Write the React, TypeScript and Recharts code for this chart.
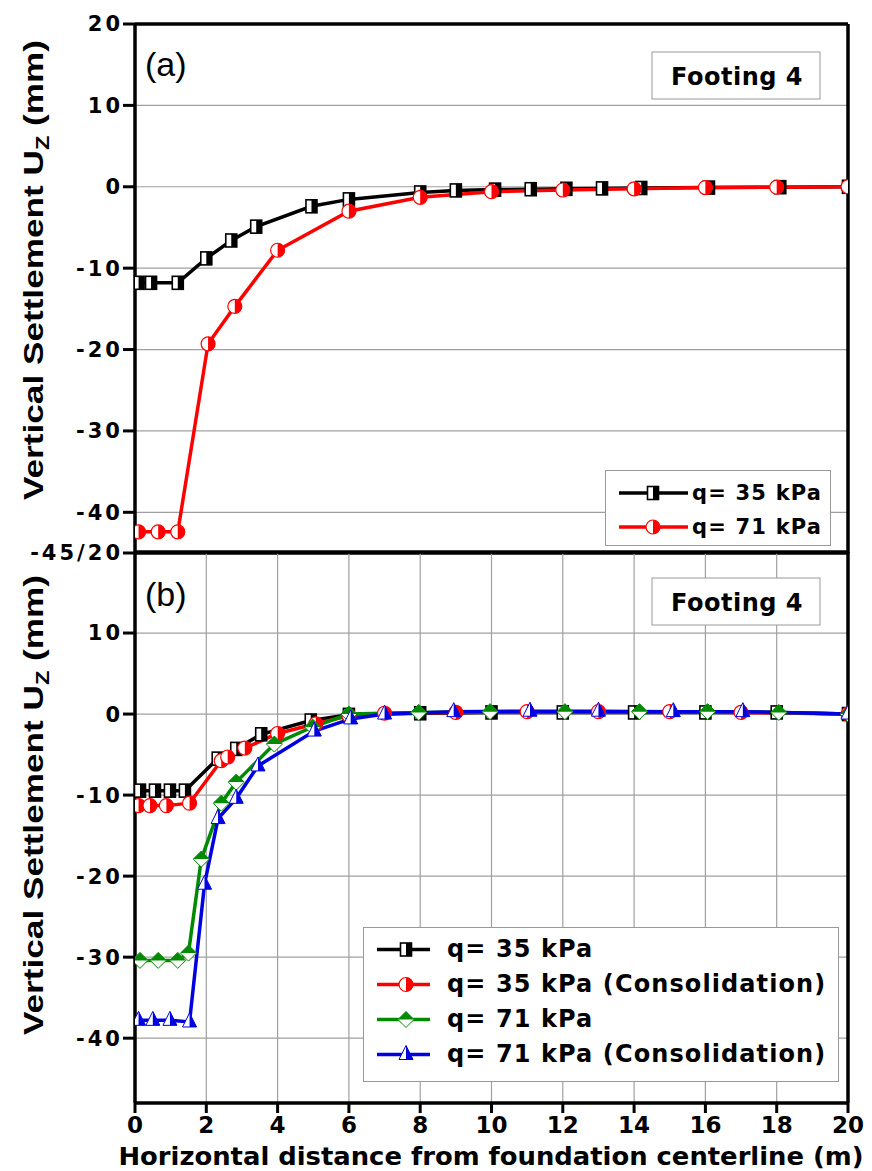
import React from "react";
import { CartesianGrid, Legend, Line, LineChart, XAxis, YAxis } from "recharts";

// (a) Footing 4, two load levels
const topBlackX = [0.1, 0.45, 1.2, 2.0, 2.7, 3.4, 4.95, 6.0, 8.0, 9.0, 10.1, 11.1, 12.1, 13.1, 14.2, 16.1, 18.1, 20];
const topBlackY = [-11.8, -11.8, -11.8, -8.8, -6.6, -4.9, -2.4, -1.55, -0.7, -0.45, -0.35, -0.3, -0.25, -0.2, -0.15, -0.1, -0.05, 0];
const topRedX = [0.1, 0.65, 1.2, 2.05, 2.8, 4.0, 6.0, 8.0, 10.0, 12.0, 14.0, 16.0, 18.0, 20];
const topRedY = [-42.4, -42.4, -42.4, -19.3, -14.7, -7.8, -3.0, -1.3, -0.6, -0.4, -0.25, -0.1, -0.05, 0];

// (b) Footing 4, with and without consolidation
const botBlackX = [0.14, 0.56, 0.98, 1.4, 2.32, 2.84, 3.54, 4.93, 6.0, 8.0, 10.0, 12.0, 14.0, 16.0, 18.0, 20];
const botBlackY = [-9.45, -9.45, -9.45, -9.45, -5.5, -4.3, -2.5, -0.8, -0.1, 0.1, 0.2, 0.2, 0.2, 0.2, 0.2, 0];
const botRedX = [0.1, 0.42, 0.88, 1.53, 2.42, 2.6, 3.08, 4.0, 5.07, 6.0, 7.0, 9.0, 11.0, 13.0, 15.0, 17.0, 20];
const botRedY = [-11.3, -11.3, -11.3, -11.0, -5.75, -5.3, -4.2, -2.4, -1.2, -0.2, 0.1, 0.2, 0.3, 0.3, 0.3, 0.2, 0];
const botGreenX = [0.14, 0.65, 1.2, 1.5, 1.86, 2.42, 2.84, 3.91, 4.98, 6.0, 7.96, 9.96, 12.06, 14.15, 16.06, 18.06, 20];
const botGreenY = [-30.4, -30.4, -30.4, -29.5, -17.9, -11.0, -8.4, -3.7, -1.6, 0, 0.2, 0.3, 0.3, 0.3, 0.3, 0.2, 0];
const botBlueX = [0.1, 0.5, 0.98, 1.53, 1.95, 2.33, 2.84, 3.45, 5.03, 6.05, 7.0, 8.94, 11.08, 13.0, 15.1, 17.05, 20];
const botBlueY = [-37.8, -37.8, -37.8, -38.0, -21.0, -12.9, -10.4, -6.4, -2.1, -0.6, 0, 0.3, 0.35, 0.35, 0.3, 0.3, 0];

const xTicks = [0, 2, 4, 6, 8, 10, 12, 14, 16, 18, 20];
const topYTicks = [20, 10, 0, -10, -20, -30, -40, -45];
const botYTicks = [10, 0, -10, -20, -30, -40];

const toPoints = (xs: number[], ys: number[]) => xs.map((x, i) => ({ x, y: ys[i] }));

type Shape = "square" | "circle" | "diamond" | "triangle";
type Series = { key: string; label: string; color: string; shape: Shape; data: { x: number; y: number }[] };

const topSeries: Series[] = [
  { key: "t35", label: "q= 35 kPa", color: "#000000", shape: "square", data: toPoints(topBlackX, topBlackY) },
  { key: "t71", label: "q= 71 kPa", color: "#ff0000", shape: "circle", data: toPoints(topRedX, topRedY) }
];

const botSeries: Series[] = [
  { key: "b35", label: "q= 35 kPa", color: "#000000", shape: "square", data: toPoints(botBlackX, botBlackY) },
  { key: "b35c", label: "q= 35 kPa (Consolidation)", color: "#ff0000", shape: "circle", data: toPoints(botRedX, botRedY) },
  { key: "b71", label: "q= 71 kPa", color: "#008a00", shape: "diamond", data: toPoints(botGreenX, botGreenY) },
  { key: "b71c", label: "q= 71 kPa (Consolidation)", color: "#0000e0", shape: "triangle", data: toPoints(botBlueX, botBlueY) }
];

const axisLine = { stroke: "#000", strokeWidth: 3.5 };
const tickLine = { stroke: "#000", strokeWidth: 3 };
const yTickFont = { fontFamily: "DejaVu Sans", fontWeight: 700, fontSize: 21, fill: "#000", letterSpacing: 3 };
const xTickFont = { fontFamily: "DejaVu Sans", fontWeight: 700, fontSize: 23, fill: "#000" };

function Marker({ cx, cy, shape, color }: { cx: number; cy: number; shape: Shape; color: string }) {
  if (shape === "square") {
    return (
      <g>
        <rect x={cx - 5.5} y={cy - 6.5} width={11} height={13} fill="#fff" stroke={color} strokeWidth={1.6} />
        <rect x={cx} y={cy - 6.5} width={5.5} height={13} fill={color} />
      </g>
    );
  }
  if (shape === "circle") {
    const r = 7;
    return (
      <g>
        <circle cx={cx} cy={cy} r={r} fill="#fff" stroke={color} strokeWidth={1.2} />
        <path d={`M${cx},${cy - r} A${r},${r} 0 0 1 ${cx},${cy + r} Z`} fill={color} />
      </g>
    );
  }
  if (shape === "diamond") {
    const d = 8;
    return (
      <g>
        <polygon points={`${cx},${cy - d} ${cx + d},${cy} ${cx},${cy + d} ${cx - d},${cy}`} fill="#fff" stroke={color} strokeWidth={1} />
        <polygon points={`${cx - d},${cy} ${cx},${cy - d} ${cx + d},${cy}`} fill={color} />
      </g>
    );
  }
  return (
    <g>
      <polygon points={`${cx},${cy - 9} ${cx + 7},${cy + 5} ${cx - 7},${cy + 5}`} fill="#fff" stroke={color} strokeWidth={1} />
      <polygon points={`${cx},${cy - 9} ${cx + 7},${cy + 5} ${cx},${cy + 5}`} fill={color} />
    </g>
  );
}

const renderDot = (s: Series) => (props: any) => {
  const { cx, cy, index } = props;
  if (cx == null || cy == null) return <g key={`${s.key}-${index}`} />;
  return <Marker key={`${s.key}-${index}`} cx={cx} cy={cy} shape={s.shape} color={s.color} />;
};

function LegendBox({
  series,
  width,
  height,
  rowHeight,
  padTop,
  sampleWidth,
  markerX,
  textLeft,
  font
}: {
  series: Series[];
  width: number;
  height: number;
  rowHeight: number;
  padTop: number;
  sampleWidth: number;
  markerX: number;
  textLeft: number;
  font: React.CSSProperties;
}) {
  return (
    <div style={{ width, height, background: "#fff", border: "1px solid #999", paddingTop: padTop, boxSizing: "border-box" }}>
      {series.map((s) => (
        <div key={s.key} style={{ position: "relative", height: rowHeight }}>
          <svg width={sampleWidth + 14} height={rowHeight} style={{ position: "absolute", left: 10, top: 0 }}>
            <line x1={3} x2={sampleWidth + 3} y1={rowHeight / 2} y2={rowHeight / 2} stroke={s.color} strokeWidth={3.5} />
            <Marker cx={markerX} cy={rowHeight / 2} shape={s.shape} color={s.color} />
          </svg>
          <span style={{ position: "absolute", left: textLeft, top: 0, lineHeight: `${rowHeight}px`, whiteSpace: "nowrap", color: "#000", ...font }}>
            {s.label}
          </span>
        </div>
      ))}
    </div>
  );
}

function Panel({
  series,
  height,
  margin,
  yDomain,
  yTicks,
  showXLabels,
  legend
}: {
  series: Series[];
  height: number;
  margin: { top: number; right: number; bottom: number; left: number };
  yDomain: [number, number];
  yTicks: number[];
  showXLabels: boolean;
  legend: React.ReactElement;
}) {
  return (
    <LineChart width={872} height={height} margin={margin}>
      <CartesianGrid xAxisId="bottom" yAxisId="left" stroke="#a0a0a0" strokeWidth={1.2} />
      <XAxis
        xAxisId="bottom"
        type="number"
        dataKey="x"
        domain={[0, 20]}
        ticks={xTicks}
        height={showXLabels ? 40 : 1}
        tick={showXLabels ? xTickFont : false}
        tickSize={10}
        tickMargin={4}
        tickLine={showXLabels ? tickLine : false}
        axisLine={axisLine}
        allowDataOverflow
      />
      <XAxis
        xAxisId="top"
        orientation="top"
        type="number"
        dataKey="x"
        domain={[0, 20]}
        ticks={xTicks}
        height={1}
        mirror
        tick={false}
        tickSize={8}
        tickLine={tickLine}
        axisLine={axisLine}
      />
      <YAxis
        yAxisId="left"
        type="number"
        domain={yDomain}
        ticks={yTicks}
        width={135}
        tick={yTickFont}
        tickSize={12}
        tickMargin={0}
        tickLine={tickLine}
        axisLine={axisLine}
        tickFormatter={(v: number) => (v === -45 ? "-45/20" : String(v))}
        allowDataOverflow
      />
      <YAxis
        yAxisId="right"
        orientation="right"
        type="number"
        domain={yDomain}
        ticks={yTicks}
        width={1}
        mirror
        tick={false}
        tickSize={8}
        tickLine={tickLine}
        axisLine={axisLine}
      />
      {series.map((s) => (
        <Line
          key={s.key}
          xAxisId="bottom"
          yAxisId="left"
          data={s.data}
          dataKey="y"
          name={s.label}
          type="linear"
          stroke={s.color}
          strokeWidth={3.5}
          dot={renderDot(s)}
          activeDot={false}
          isAnimationActive={false}
        />
      ))}
      {legend}
    </LineChart>
  );
}

function YTitle({ cx, cy }: { cx: number; cy: number }) {
  return (
    <text
      transform={`translate(${cx},${cy}) rotate(-90)`}
      textAnchor="middle"
      fontFamily="Liberation Sans"
      fontWeight={700}
      fontSize={27}
      textLength={460}
      lengthAdjust="spacingAndGlyphs"
      fill="#000"
    >
      Vertical Settlement U
      <tspan fontSize={18} dy={6}>
        Z
      </tspan>
      <tspan dy={-6}> (mm)</tspan>
    </text>
  );
}

function FootingBox({ x, y }: { x: number; y: number }) {
  return (
    <g>
      <rect x={x} y={y} width={168} height={47} fill="#fff" stroke="#999" strokeWidth={1} />
      <text x={x + 85} y={y + 33} textAnchor="middle" fontFamily="DejaVu Sans" fontWeight={700} fontSize={24} letterSpacing={0.5} fill="#000">
        Footing 4
      </text>
    </g>
  );
}

export default function App() {
  const topLegend = (
    <Legend
      layout="vertical"
      align="center"
      verticalAlign="middle"
      wrapperStyle={{ left: 605, top: 470, width: 226 }}
      content={() => (
        <LegendBox
          series={topSeries}
          width={226}
          height={76}
          rowHeight={34}
          padTop={5}
          sampleWidth={69}
          markerX={37}
          textLeft={86}
          font={{ fontFamily: "DejaVu Sans", fontWeight: 700, fontSize: 21, letterSpacing: 1.2 }}
        />
      )}
    />
  );
  const botLegend = (
    <Legend
      layout="vertical"
      align="center"
      verticalAlign="middle"
      wrapperStyle={{ left: 363, top: 387, width: 476 }}
      content={() => (
        <LegendBox
          series={botSeries}
          width={476}
          height={155}
          rowHeight={35}
          padTop={4}
          sampleWidth={53}
          markerX={32}
          textLeft={83}
          font={{ fontFamily: "DejaVu Sans", fontWeight: 700, fontSize: 24, letterSpacing: 1.1 }}
        />
      )}
    />
  );

  return (
    <div style={{ position: "absolute", left: 0, top: 0, width: 872, height: 1171, background: "#fff" }}>
      <div style={{ position: "absolute", left: 0, top: 0 }}>
        <Panel
          series={topSeries}
          height={570}
          margin={{ top: 24, right: 24, bottom: 16, left: 0 }}
          yDomain={[-45, 20]}
          yTicks={topYTicks}
          showXLabels={false}
          legend={topLegend}
        />
      </div>
      <div style={{ position: "absolute", left: 0, top: 540 }}>
        <Panel
          series={botSeries}
          height={631}
          margin={{ top: 12, right: 24, bottom: 28, left: 0 }}
          yDomain={[-48, 20]}
          yTicks={botYTicks}
          showXLabels={true}
          legend={botLegend}
        />
      </div>
      <svg width={872} height={1171} style={{ position: "absolute", left: 0, top: 0, pointerEvents: "none" }}>
        <YTitle cx={43} cy={270} />
        <YTitle cx={43} cy={805} />
        <text x={145} y={76} fontFamily="Liberation Sans" fontSize={34} fill="#000">
          (a)
        </text>
        <text x={145} y={606} fontFamily="Liberation Sans" fontSize={34} fill="#000">
          (b)
        </text>
        <FootingBox x={652} y={52} />
        <FootingBox x={652} y={578} />
        <text
          x={491}
          y={1165}
          textAnchor="middle"
          fontFamily="DejaVu Sans"
          fontWeight={700}
          fontSize={24}
          textLength={745}
          lengthAdjust="spacingAndGlyphs"
          fill="#000"
        >
          Horizontal distance from foundation centerline (m)
        </text>
      </svg>
    </div>
  );
}
